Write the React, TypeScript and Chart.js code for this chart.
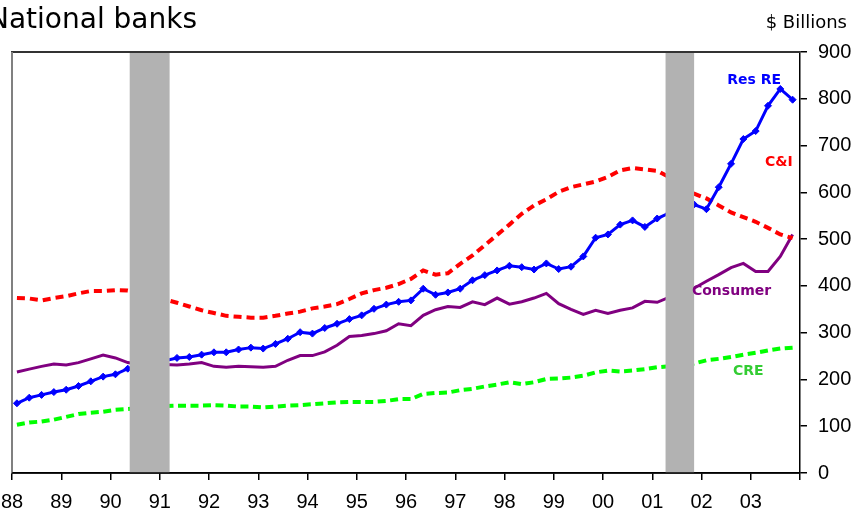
import React, { useEffect, useRef } from 'react';
import { Chart, registerables } from 'chart.js';

Chart.register(...registerables);

const START_YEAR = 1988;
const END_YEAR = 2004;
const QUARTER_OFFSET = 0.1;

const yearLabels = ['88', '89', '90', '91', '92', '93', '94', '95', '96', '97', '98', '99', '00', '01', '02', '03'];

const resRE = [
  149, 161, 167, 173, 178, 186, 196, 206, 211, 223,
  229, 235, 240, 246, 248, 253, 258, 258, 264, 268,
  266, 276, 287, 301, 298, 310, 319, 329, 337, 351,
  360, 366, 369, 394, 381, 386, 394, 412, 423, 433,
  443, 440, 435, 448, 436, 441, 463, 503, 510, 531,
  540, 526, 544, 556, 566, 574, 564, 611, 661, 714,
  731, 785, 821, 798,
];

const consumer = [
  216, 222, 228, 233, 231, 236, 244, 252, 246, 236,
  232, 232, 232, 231, 233, 236, 228, 226, 228, 227,
  226, 228, 241, 251, 251, 259, 273, 292, 294, 298,
  304, 319, 315, 337, 349, 356, 354, 366, 360, 374,
  361, 366, 374, 384, 362, 350, 339, 348, 341, 348,
  353, 367, 365, 376, 384, 395, 410, 424, 439, 448,
  431, 431, 463, 510,
];

const cAndI = [
  374, 373, 369, 374, 378, 384, 389, 389, 391, 390,
  385, 378, 371, 364, 356, 348, 342, 336, 334, 332,
  332, 336, 341, 345, 352, 356, 361, 372, 384, 391,
  396, 404, 415, 433, 424, 427, 447, 465, 487, 509,
  531, 554, 572, 585, 601, 611, 617, 623, 633, 647,
  652, 649, 646, 632, 612, 597, 587, 572, 557, 547,
  537, 524, 510, 502,
];

const cre = [
  103, 108, 110, 114, 120, 126, 129, 131, 135, 137,
  139, 141, 143, 144, 144, 144, 145, 144, 142, 142,
  140, 142, 144, 145, 147, 149, 151, 152, 152, 152,
  154, 158, 158, 169, 171, 172, 177, 180, 185, 189,
  194, 190, 194, 201, 202, 204, 208, 215, 219, 217,
  219, 222, 226, 228, 231, 234, 241, 244, 248, 253,
  257, 262, 266, 268,
];

const recessions: [number, number][] = [
  [1990.39, 1991.2],
  [2001.27, 2001.85],
];

const seriesLabels = [
  { text: 'Res RE', x: 2003.07, y: 831, color: '#0000ff' },
  { text: 'C&I', x: 2003.57, y: 656, color: '#ff0000' },
  { text: 'Consumer', x: 2002.61, y: 381, color: '#800080' },
  { text: 'CRE', x: 2002.95, y: 210, color: '#33cc33' },
];

const toPoints = (vals: number[]) =>
  vals.map((v, i) => ({ x: START_YEAR + QUARTER_OFFSET + i * 0.25, y: v }));

const overlayPlugin = {
  id: 'overlay',
  afterDatasetsDraw(chart: any) {
    const { ctx, chartArea, scales } = chart;
    const xs = scales.x;
    const ys = scales.y;
    ctx.save();
    // recession bars
    ctx.fillStyle = '#b2b2b2';
    recessions.forEach(([a, b]) => {
      const x1 = xs.getPixelForValue(a);
      const x2 = xs.getPixelForValue(b);
      ctx.fillRect(x1, chartArea.top, x2 - x1, chartArea.bottom - chartArea.top);
    });
    // frame
    ctx.strokeStyle = '#333333';
    ctx.lineWidth = 2;
    ctx.beginPath();
    ctx.moveTo(chartArea.left - 1, chartArea.top);
    ctx.lineTo(chartArea.right, chartArea.top);
    ctx.stroke();
    ctx.strokeStyle = '#808080';
    ctx.beginPath();
    ctx.moveTo(chartArea.left, chartArea.top);
    ctx.lineTo(chartArea.left, chartArea.bottom);
    ctx.stroke();
    ctx.strokeStyle = '#000000';
    ctx.lineWidth = 1.5;
    ctx.beginPath();
    ctx.moveTo(chartArea.left, chartArea.bottom);
    ctx.lineTo(chartArea.right, chartArea.bottom);
    ctx.stroke();
    // series labels
    ctx.font = 'bold 14px "DejaVu Sans"';
    ctx.textAlign = 'center';
    ctx.textBaseline = 'alphabetic';
    seriesLabels.forEach((l) => {
      ctx.fillStyle = l.color;
      ctx.fillText(l.text, xs.getPixelForValue(l.x), ys.getPixelForValue(l.y));
    });
    // titles
    ctx.fillStyle = '#000000';
    ctx.textAlign = 'left';
    ctx.font = '28px "DejaVu Sans"';
    ctx.fillText('National banks', -12, 28);
    ctx.textAlign = 'right';
    ctx.font = '18px "DejaVu Sans"';
    ctx.fillText('$ Billions', 847, 28);
    ctx.restore();
  },
};

export default function App() {
  const canvasRef = useRef<HTMLCanvasElement | null>(null);

  useEffect(() => {
    document.body.style.margin = '0';
    const canvas = canvasRef.current;
    if (!canvas) return;
    const tickFont = { family: '"Liberation Sans", Arial, sans-serif', size: 20 };
    const chart = new Chart(canvas, {
      type: 'line',
      data: {
        datasets: [
          {
            label: 'Res RE',
            data: toPoints(resRE),
            borderColor: '#0000ff',
            backgroundColor: '#0000ff',
            borderWidth: 3,
            pointStyle: 'rectRot',
            pointRadius: 3.5,
            pointBorderWidth: 1,
            tension: 0,
          },
          {
            label: 'C&I',
            data: toPoints(cAndI),
            borderColor: '#ff0000',
            borderWidth: 4,
            borderDash: [8, 5],
            pointRadius: 0,
            tension: 0,
          },
          {
            label: 'Consumer',
            data: toPoints(consumer),
            borderColor: '#800080',
            borderWidth: 3,
            pointRadius: 0,
            tension: 0,
          },
          {
            label: 'CRE',
            data: toPoints(cre),
            borderColor: '#00ff00',
            borderWidth: 4,
            borderDash: [8, 4.5],
            pointRadius: 0,
            tension: 0,
          },
        ],
      },
      options: {
        animation: false,
        responsive: false,
        devicePixelRatio: 1,
        layout: { padding: { left: 12, top: 52, right: 0, bottom: 0 } },
        plugins: { legend: { display: false }, tooltip: { enabled: false } },
        scales: {
          x: {
            type: 'linear',
            position: 'bottom',
            min: START_YEAR,
            max: END_YEAR,
            afterFit: (s: any) => {
              s.height = 46;
              s.paddingLeft = 0;
              s.paddingRight = 0;
            },
            ticks: {
              stepSize: 1,
              autoSkip: false,
              maxRotation: 0,
              padding: 10,
              color: '#000',
              font: tickFont,
              callback: (v: any) => yearLabels[Math.round(Number(v)) - START_YEAR] ?? '',
            },
            grid: { drawOnChartArea: false, tickLength: 7, color: '#000', lineWidth: 1.5 },
            border: { color: '#000', width: 1.5 },
          },
          y: {
            type: 'linear',
            position: 'right',
            min: 0,
            max: 900,
            afterFit: (s: any) => {
              s.width = 54;
              s.paddingTop = 0;
              s.paddingBottom = 0;
            },
            ticks: {
              stepSize: 100,
              padding: 11,
              color: '#000',
              font: tickFont,
              callback: (v: any) => String(v),
            },
            grid: { drawOnChartArea: false, tickLength: 7, color: '#000', lineWidth: 1.5 },
            border: { color: '#000', width: 1.5 },
          },
        },
      },
      plugins: [overlayPlugin],
    });
    return () => chart.destroy();
  }, []);

  return (
    <div style={{ position: 'absolute', left: 0, top: 0, width: 854, height: 519 }}>
      <canvas ref={canvasRef} width={854} height={519} />
    </div>
  );
}
